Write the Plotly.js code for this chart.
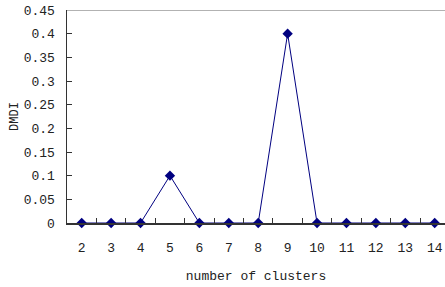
<!DOCTYPE html>
<html><head><meta charset="utf-8">
<script src="https://cdn.plot.ly/plotly-3.0.1.min.js"></script>
<style>html,body{margin:0;padding:0;background:#fff;}#chart{width:445px;height:287px;}</style>
</head><body><div id="chart"></div>
<script>
var clusters = ['2','3','4','5','6','7','8','9','10','11','12','13','14'];
var dmdi = [0, 0, 0, 0.1, 0, 0, 0, 0.4, 0, 0, 0, 0, 0];
var yTicks = [0, 0.05, 0.1, 0.15, 0.2, 0.25, 0.3, 0.35, 0.4, 0.45];
var yLabels = ['0', '0.05', '0.1', '0.15', '0.2', '0.25', '0.3', '0.35', '0.4', '0.45'];

var font = {family: '"Liberation Mono", "DejaVu Sans Mono", monospace', size: 13, color: '#222'};
var titleFontY = {family: '"Liberation Mono", "DejaVu Sans Mono", monospace', size: 12, color: '#222'};
var trace = {
  x: clusters, y: dmdi, type: 'scatter', mode: 'lines+markers',
  line: {color: '#000080', width: 1},
  marker: {symbol: 'diamond', size: 8, color: '#000080'},
  cliponaxis: false
};
var layout = {
  width: 445, height: 287,
  margin: {l: 67, r: 0, t: 10, b: 64},
  paper_bgcolor: '#fff', plot_bgcolor: '#fff',
  showlegend: false,
  font: font,
  xaxis: {
    type: 'category', range: [-0.5, 12.35],
    tickson: 'boundaries', ticks: 'inside', ticklen: 5, tickcolor: '#333', tickwidth: 1,
    showline: true, linecolor: '#333', linewidth: 1.5,
    showgrid: false, zeroline: false,
    ticklabelstandoff: 12,
    title: {text: 'number of clusters', font: font, standoff: 16}
  },
  yaxis: {
    range: [0, 0.45], tickvals: yTicks, ticktext: yLabels,
    ticks: 'inside', ticklen: 5, tickcolor: '#333', tickwidth: 1,
    showline: true, linecolor: '#333', linewidth: 1.5,
    showgrid: false, zeroline: false,
    ticklabelstandoff: 8,
    title: {text: 'DMDI', font: titleFontY, standoff: 2}
  },
  shapes: [{type: 'line', xref: 'paper', yref: 'y', x0: 0, x1: 1, y0: 0.45, y1: 0.45,
            line: {color: '#999', width: 1.5}}]
};
Plotly.newPlot('chart', [trace], layout, {displayModeBar: false, staticPlot: true});
</script></body></html>
